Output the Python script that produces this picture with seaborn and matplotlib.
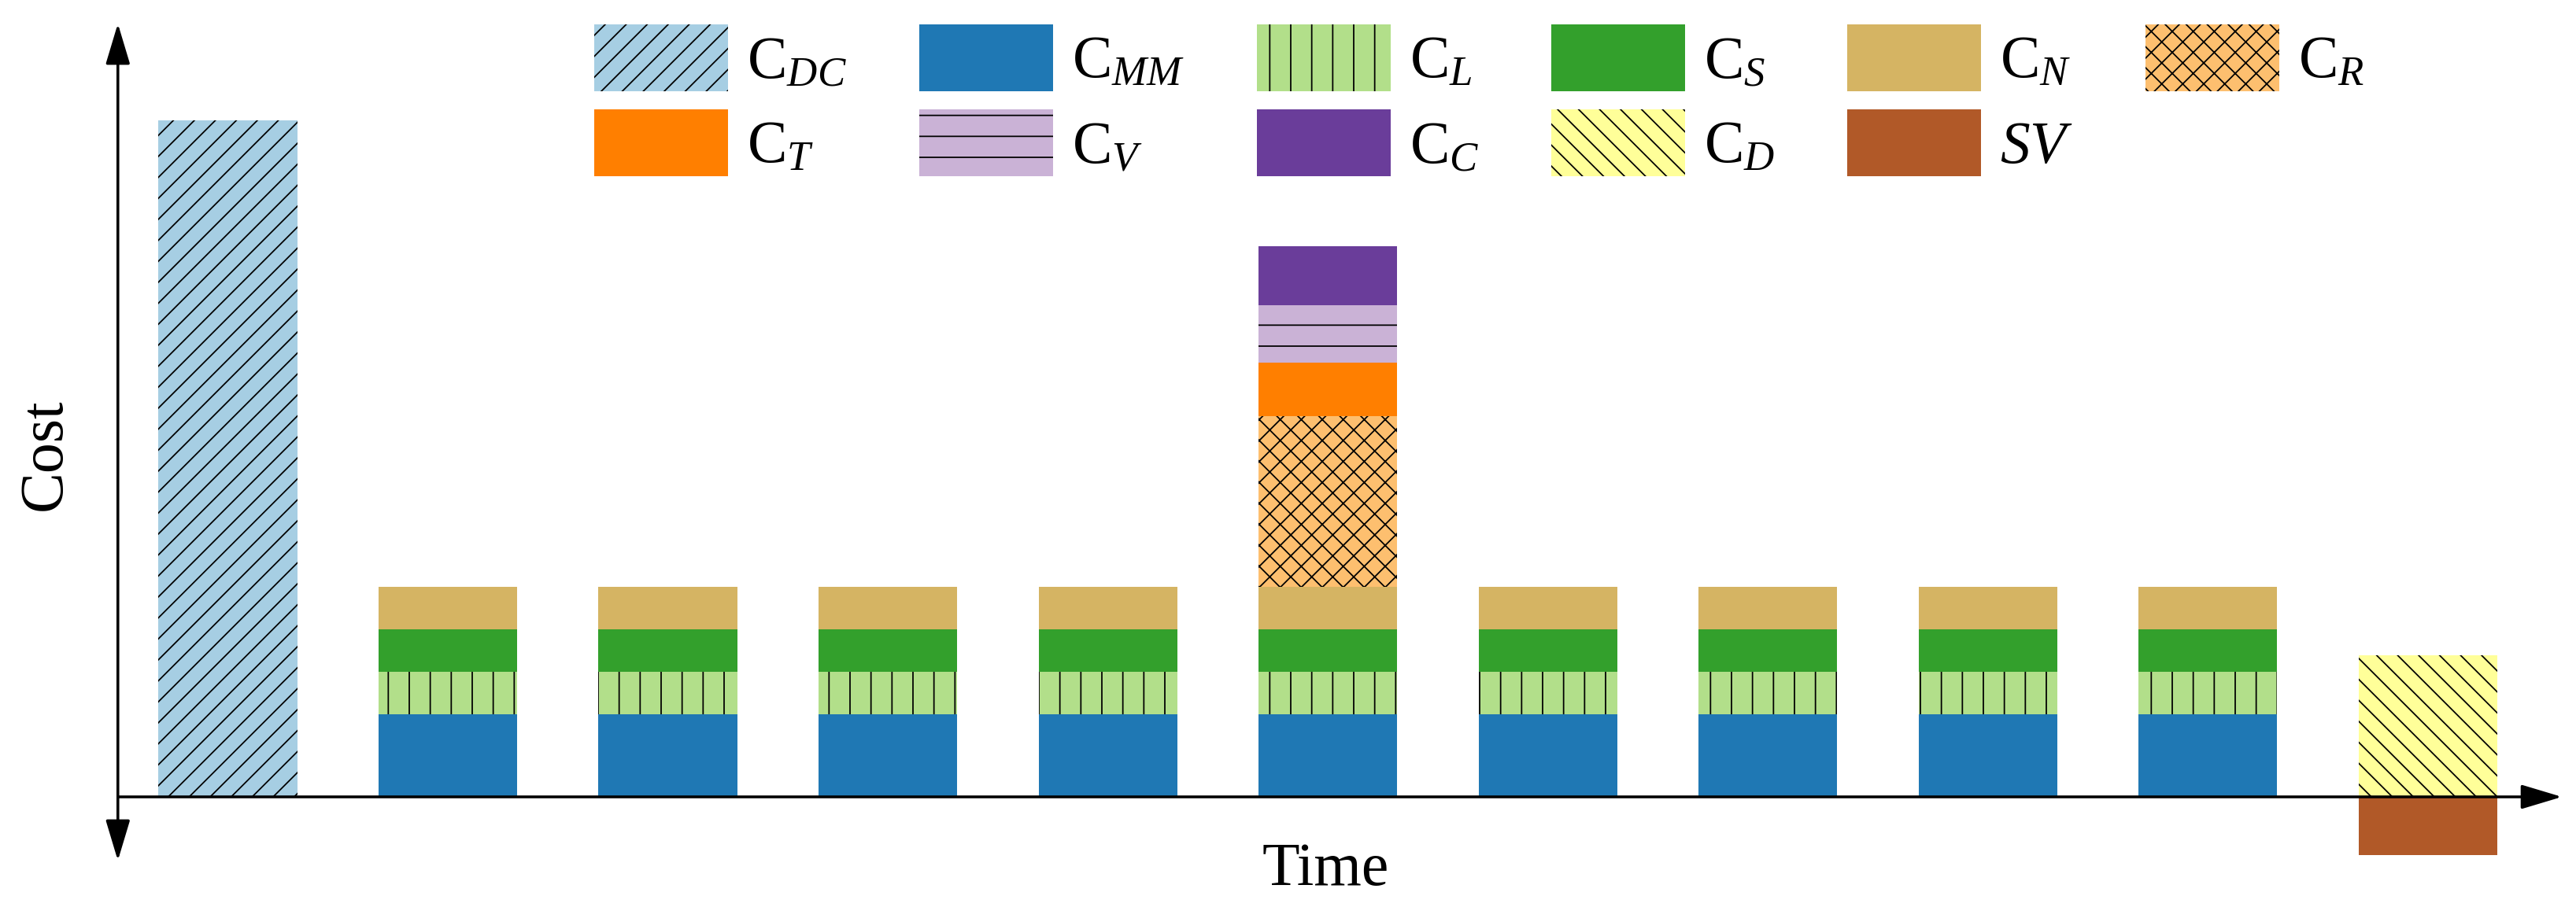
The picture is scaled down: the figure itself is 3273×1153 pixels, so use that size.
import numpy as np
import matplotlib.pyplot as plt
import seaborn as sns
from matplotlib.patches import Patch

# time steps on the x axis (0 = build, 10 = end of life)
steps = list(range(11))

# cost components per step (arbitrary units)
c_dc = [86, 0, 0, 0, 0, 0, 0, 0, 0, 0, 0]
c_mm = [0, 10.5, 10.5, 10.5, 10.5, 10.5, 10.5, 10.5, 10.5, 10.5, 0]
c_l = [0, 5.4, 5.4, 5.4, 5.4, 5.4, 5.4, 5.4, 5.4, 5.4, 0]
c_s = [0, 5.4, 5.4, 5.4, 5.4, 5.4, 5.4, 5.4, 5.4, 5.4, 0]
c_n = [0, 5.4, 5.4, 5.4, 5.4, 5.4, 5.4, 5.4, 5.4, 5.4, 0]
c_r = [0, 0, 0, 0, 0, 21.7, 0, 0, 0, 0, 0]
c_t = [0, 0, 0, 0, 0, 6.8, 0, 0, 0, 0, 0]
c_v = [0, 0, 0, 0, 0, 7.3, 0, 0, 0, 0, 0]
c_c = [0, 0, 0, 0, 0, 7.5, 0, 0, 0, 0, 0]
c_d = [0, 0, 0, 0, 0, 0, 0, 0, 0, 0, 18]
sv = [0, 0, 0, 0, 0, 0, 0, 0, 0, 0, -7.4]

sns.set_theme(style="white")
plt.rcParams["font.family"] = "serif"
plt.rcParams["font.serif"] = ["Liberation Serif", "Times New Roman", "DejaVu Serif"]
plt.rcParams["mathtext.fontset"] = "custom"
plt.rcParams["mathtext.rm"] = "serif"
plt.rcParams["mathtext.it"] = "serif:italic"
plt.rcParams["hatch.linewidth"] = 0.8
plt.rcParams["text.color"] = "black"

pal = sns.color_palette("Paired")
tan = "#d5b463"

# label, values, colour, hatch
series = {
    "dc": (r"$\mathrm{C}_{DC}$", c_dc, pal[0], "//"),
    "mm": (r"$\mathrm{C}_{MM}$", c_mm, pal[1], ""),
    "l": (r"$\mathrm{C}_{L}$", c_l, pal[2], "|"),
    "s": (r"$\mathrm{C}_{S}$", c_s, pal[3], ""),
    "n": (r"$\mathrm{C}_{N}$", c_n, tan, ""),
    "r": (r"$\mathrm{C}_{R}$", c_r, pal[6], "xx"),
    "t": (r"$\mathrm{C}_{T}$", c_t, pal[7], ""),
    "v": (r"$\mathrm{C}_{V}$", c_v, pal[8], "-"),
    "c": (r"$\mathrm{C}_{C}$", c_c, pal[9], ""),
    "d": (r"$\mathrm{C}_{D}$", c_d, pal[10], "\\\\"),
    "sv": (r"$SV$", sv, pal[11], ""),
}

W, H, DPI = 3273, 1153, 160
fig = plt.figure(figsize=(W / DPI, H / DPI), dpi=DPI)
ax = fig.add_axes([0, 0, 1, 1])

bar_kw = dict(errorbar=None, saturation=1, width=0.63, edgecolor="black",
              linewidth=0, ax=ax)

# stacked maintenance bars: draw cumulative totals from the top layer down
stack = ["mm", "l", "s", "n", "r", "t", "v", "c"]
vals = np.array([series[k][1] for k in stack], dtype=float)
cum = np.cumsum(vals, axis=0)
for i in reversed(range(len(stack))):
    _, v, col, hat = series[stack[i]]
    h = np.where(vals[i] > 0, cum[i], 0)
    sns.barplot(x=steps, y=h, color=col, hatch=hat, **bar_kw)

for k in ["dc", "d", "sv"]:
    _, v, col, hat = series[k]
    sns.barplot(x=steps, y=v, color=col, hatch=hat, **bar_kw)

ax.set_xlim(-1.0358, 10.674)
ax.set_ylim(-14.0, 101.3)
ax.axis("off")

# arrowed axes
arr = dict(color="black", lw=1.6, shrinkA=0, shrinkB=0, mutation_scale=10)
ax.annotate("", xy=(-0.5, 98.3), xytext=(-0.5, -8.1), zorder=10,
            arrowprops=dict(arrowstyle="<|-|>,head_length=2.0,head_width=0.6", **arr))
ax.annotate("", xy=(10.61, 0), xytext=(-0.5, 0), zorder=10,
            arrowprops=dict(arrowstyle="-|>,head_length=2.0,head_width=0.6", **arr))

ax.text(-0.83, 43.5, "Cost", rotation=90, ha="center", va="center", fontsize=35)
ax.text(4.99, -9.3, "Time", ha="center", va="center", fontsize=35)

# legend, column-major order so rows read DC MM L S N R / T V C D SV
order = ["dc", "t", "mm", "v", "l", "c", "s", "d", "n", "sv", "r"]
handles = [Patch(facecolor=series[k][2], hatch=series[k][3],
                 edgecolor="black", linewidth=0) for k in order]
labels = [series[k][0] for k in order]
fig.legend(handles, labels, ncol=6, loc="upper left",
           bbox_to_anchor=(755 / W, 1 - 31 / H), frameon=False,
           fontsize=34, borderpad=0, borderaxespad=0,
           handlelength=2.25, handleheight=1.35, handletextpad=0.32,
           columnspacing=1.21, labelspacing=0.31)

fig.savefig("out.png", dpi=DPI)
